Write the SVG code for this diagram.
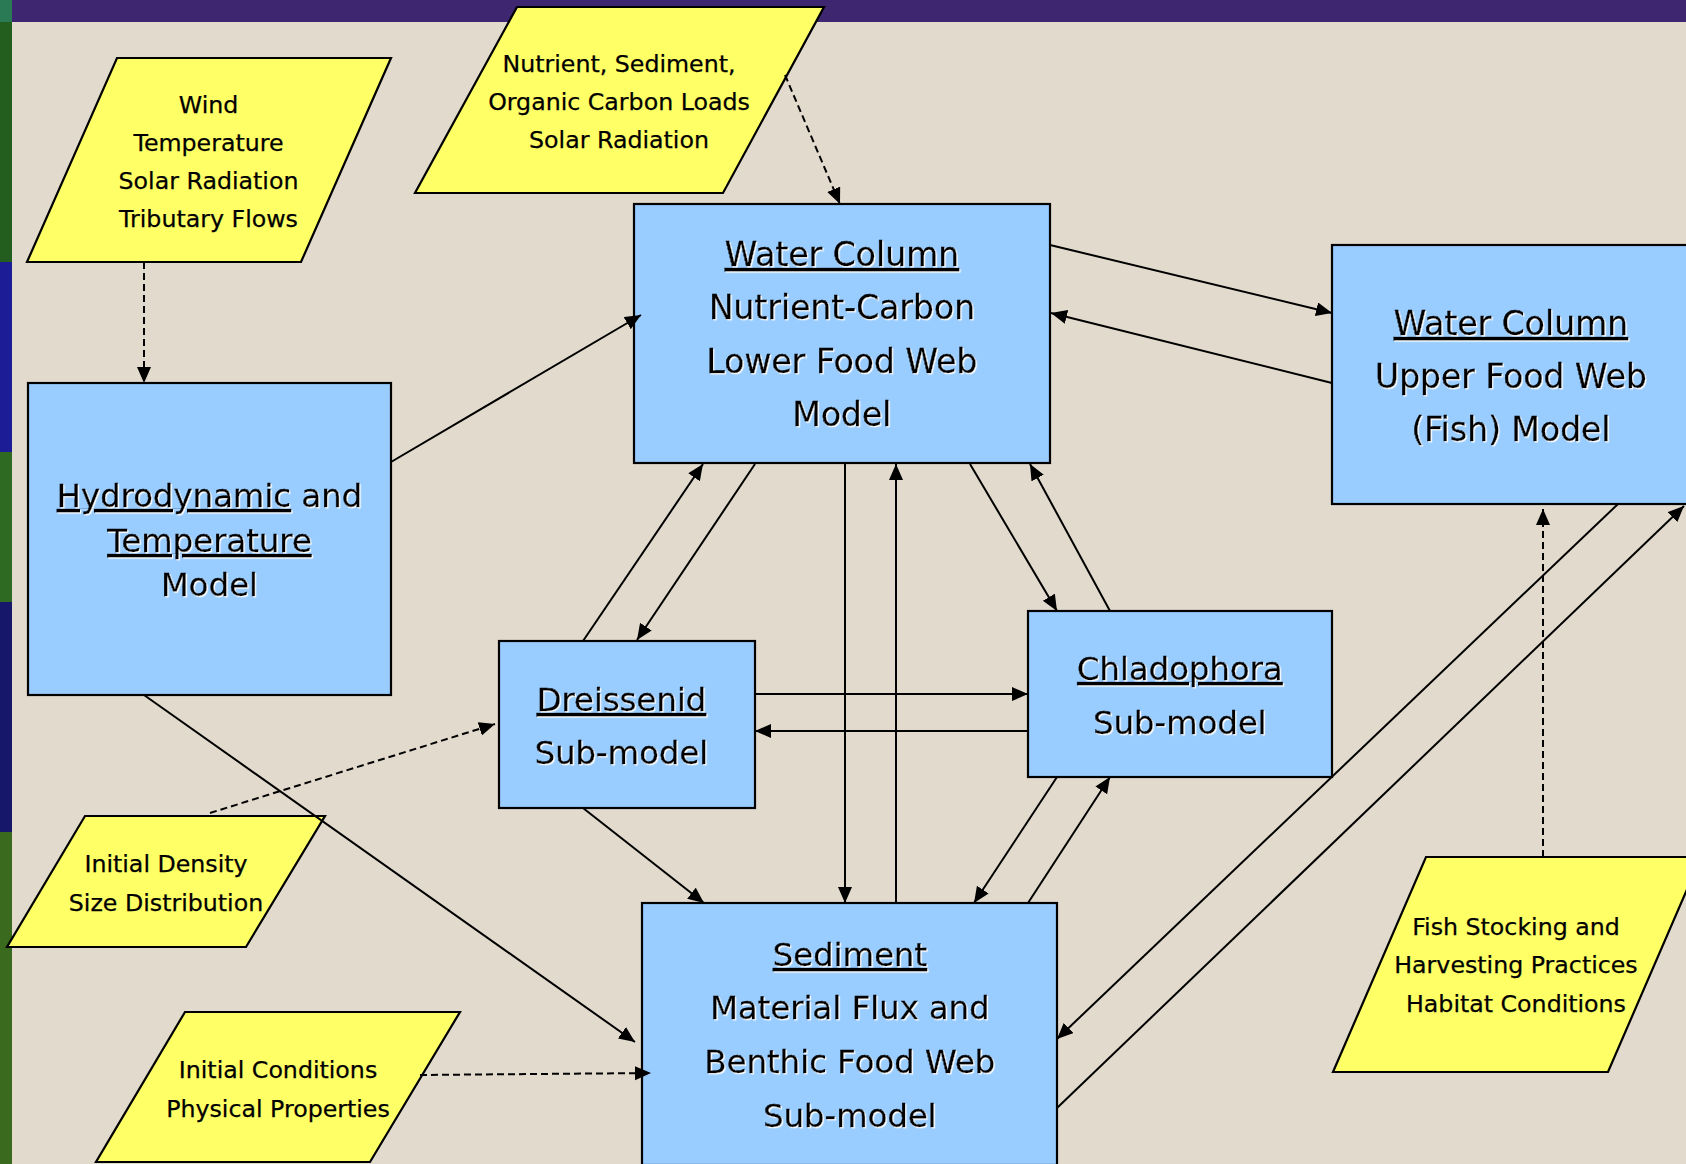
<svg xmlns="http://www.w3.org/2000/svg" width="1686" height="1164" viewBox="0 0 1686 1164">
<defs>
<style>
.box{fill:#99CCFF;stroke:#000;stroke-width:2.2}
.io{fill:#FFFF66;stroke:#000;stroke-width:2.2}
.bt{font-family:"DejaVu Sans",Verdana,sans-serif;font-size:33px;fill:#000;stroke:#000;stroke-width:0.35;text-anchor:middle;filter:url(#sh)}
.st{font-size:32.3px}
.yt{font-family:"DejaVu Sans",Verdana,sans-serif;font-size:23.7px;fill:#000;stroke:#000;stroke-width:0.25;text-anchor:middle}
.u{text-decoration:underline}
.c{stroke:#000;stroke-width:2;fill:none;marker-end:url(#ah)}
.d{stroke-dasharray:7 4}
</style>
<marker id="ah" markerUnits="userSpaceOnUse" markerWidth="17" markerHeight="15" refX="16" refY="7" orient="auto"><path d="M0,0 L16,7 L0,14 z" fill="#000"/></marker>
<filter id="sh" x="-5%" y="-20%" width="110%" height="140%"><feDropShadow dx="1.2" dy="1.2" stdDeviation="0" flood-color="#fff" flood-opacity="1"/></filter>
</defs>

<g id="background">
<rect x="0" y="0" width="1686" height="1164" fill="#E2DACC"/>
<rect x="12" y="0" width="1674" height="22" fill="#3E2670"/>
<rect x="0" y="0" width="12" height="22" fill="#2A7A55"/>
<rect x="0" y="22" width="12" height="240" fill="#235E1E"/>
<rect x="0" y="262" width="12" height="190" fill="#1C1C96"/>
<rect x="0" y="452" width="12" height="150" fill="#2E6A22"/>
<rect x="0" y="602" width="12" height="230" fill="#16166A"/>
<rect x="0" y="832" width="12" height="332" fill="#3A6A1E"/>
</g>

<g id="n-wind">
<polygon class="io" points="117,58 391,58 301,262 27,262"/>
<text class="yt" x="208.5" y="113">Wind</text>
<text class="yt" x="208.5" y="151">Temperature</text>
<text class="yt" x="208.5" y="189">Solar Radiation</text>
<text class="yt" x="208.5" y="227">Tributary Flows</text>
</g>

<g id="n-loads">
<polygon class="io" points="517,7 824,7 723,193 415,193"/>
<text class="yt" x="619" y="72">Nutrient, Sediment,</text>
<text class="yt" x="619" y="110">Organic Carbon Loads</text>
<text class="yt" x="619" y="148">Solar Radiation</text>
</g>

<g id="n-density">
<polygon class="io" points="85,816 325,816 246,947 7,947"/>
<text class="yt" x="166" y="872">Initial Density</text>
<text class="yt" x="166" y="911">Size Distribution</text>
</g>

<g id="n-initcond">
<polygon class="io" points="185,1012 460,1012 370,1162 96,1162"/>
<text class="yt" x="278" y="1078">Initial Conditions</text>
<text class="yt" x="278" y="1117">Physical Properties</text>
</g>

<g id="n-fish">
<polygon class="io" points="1426,857 1701,857 1608,1072 1333,1072"/>
<text class="yt" x="1516" y="935">Fish Stocking and</text>
<text class="yt" x="1516" y="973">Harvesting Practices</text>
<text class="yt" x="1516" y="1012">Habitat Conditions</text>
</g>

<g id="n-hydro">
<rect class="box" x="28" y="383" width="363" height="312"/>
<text class="bt st" x="209.5" y="507"><tspan class="u">Hydrodynamic</tspan> and</text>
<text class="bt st" x="209.5" y="552"><tspan class="u">Temperature</tspan></text>
<text class="bt st" x="209.5" y="596">Model</text>
</g>

<g id="n-lowerweb">
<rect class="box" x="634" y="204" width="416" height="259"/>
<text class="bt" x="842" y="266"><tspan class="u">Water Column</tspan></text>
<text class="bt" x="842" y="319">Nutrient-Carbon</text>
<text class="bt" x="842" y="373">Lower Food Web</text>
<text class="bt" x="842" y="426">Model</text>
</g>

<g id="n-upperweb">
<rect class="box" x="1332" y="245" width="358" height="259"/>
<text class="bt" x="1511" y="335"><tspan class="u">Water Column</tspan></text>
<text class="bt" x="1511" y="388">Upper Food Web</text>
<text class="bt" x="1511" y="441">(Fish) Model</text>
</g>

<g id="n-dreissenid">
<rect class="box" x="499" y="641" width="256" height="167"/>
<text class="bt st" x="621.5" y="711"><tspan class="u">Dreissenid</tspan></text>
<text class="bt st" x="621.5" y="764">Sub-model</text>
</g>

<g id="n-chladophora">
<rect class="box" x="1028" y="611" width="304" height="166"/>
<text class="bt st" x="1180" y="680"><tspan class="u">Chladophora</tspan></text>
<text class="bt st" x="1180" y="734">Sub-model</text>
</g>

<g id="n-sediment">
<rect class="box" x="642" y="903" width="415" height="262"/>
<text class="bt st" x="850" y="966"><tspan class="u">Sediment</tspan></text>
<text class="bt st" x="850" y="1019">Material Flux and</text>
<text class="bt st" x="850" y="1073">Benthic Food Web</text>
<text class="bt st" x="850" y="1127">Sub-model</text>
</g>

<g id="connectors">
<line class="c d" x1="144" y1="262" x2="144" y2="383"/>
<line class="c d" x1="785" y1="75" x2="840" y2="204"/>
<line class="c d" x1="210" y1="813" x2="495" y2="724"/>
<line class="c d" x1="420" y1="1075" x2="651" y2="1073"/>
<line class="c d" x1="1543" y1="857" x2="1543" y2="509"/>
<line class="c" x1="391" y1="462" x2="641" y2="315"/>
<line class="c" x1="144" y1="695" x2="635" y2="1042"/>
<line class="c" x1="1050" y1="245" x2="1332" y2="313"/>
<line class="c" x1="1332" y1="383" x2="1051" y2="313"/>
<line class="c" x1="583" y1="641" x2="703" y2="464"/>
<line class="c" x1="755" y1="464" x2="637" y2="640"/>
<line class="c" x1="845" y1="464" x2="845" y2="903"/>
<line class="c" x1="896" y1="903" x2="896" y2="464"/>
<line class="c" x1="970" y1="464" x2="1057" y2="611"/>
<line class="c" x1="1110" y1="611" x2="1030" y2="464"/>
<line class="c" x1="755" y1="694" x2="1028" y2="694"/>
<line class="c" x1="1028" y1="731" x2="755" y2="731"/>
<line class="c" x1="583" y1="808" x2="704" y2="903"/>
<line class="c" x1="1057" y1="777" x2="974" y2="903"/>
<line class="c" x1="1028" y1="903" x2="1110" y2="777"/>
<line class="c" x1="1618" y1="504" x2="1057" y2="1039"/>
<line class="c" x1="1057" y1="1108" x2="1684" y2="506"/>
</g>
</svg>
